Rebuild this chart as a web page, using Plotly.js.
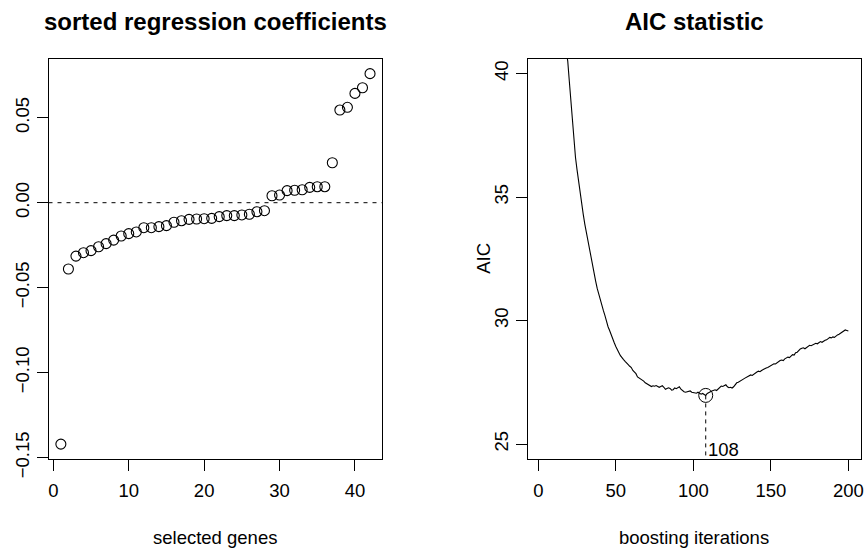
<!DOCTYPE html>
<html>
<head>
<meta charset="utf-8">
<script src="https://cdn.plot.ly/plotly-3.0.1.min.js"></script>
<style>html,body{margin:0;padding:0;background:#fff;}#chart{width:868px;height:549px;}</style>
</head>
<body>
<div id="chart"></div>
<script>
// Sorted regression coefficients (selected genes 1..42)
var geneIndex = [];
for (var i = 1; i <= 42; i++) geneIndex.push(i);
var coefficients = [
  -0.142, -0.039, -0.0314, -0.0294, -0.0282, -0.0259, -0.0241, -0.0220, -0.0196, -0.0182,
  -0.0172, -0.0147, -0.0147, -0.0141, -0.0135, -0.0115, -0.0106, -0.0098, -0.0096, -0.0094,
  -0.0092, -0.0082, -0.0076, -0.0076, -0.0072, -0.0068, -0.0053, -0.0047, 0.0041, 0.0045,
  0.0071, 0.0073, 0.0076, 0.0090, 0.0094, 0.0094, 0.0235, 0.0545, 0.0561, 0.0643,
  0.0676, 0.0759
];

// AIC statistic per boosting iteration (1..200)
var iterations = [];
for (var k = 1; k <= 200; k++) iterations.push(k);
var aic = [
  75.0, 68.0, 63.0, 59.0, 56.0, 53.5, 51.5, 49.6, 48.0, 46.7,
  45.5, 44.5, 43.6, 42.8, 42.1, 41.5, 41.3, 40.9, 40.5, 39.7,
  38.9, 38.1, 37.2, 36.6, 36.1, 35.6, 35.1, 34.7, 34.3, 33.9,
  33.55, 33.2, 32.85, 32.5, 32.2, 31.85, 31.6, 31.3, 31.05, 30.85,
  30.6, 30.4, 30.2, 29.95, 29.75, 29.6, 29.4, 29.2, 29.1, 28.95,
  28.85, 28.7, 28.58, 28.52, 28.42, 28.35, 28.3, 28.22, 28.15, 28.1,
  27.98, 27.92, 27.85, 27.72, 27.68, 27.62, 27.6, 27.55, 27.48, 27.44,
  27.4, 27.35, 27.33, 27.36, 27.34, 27.37, 27.32, 27.3, 27.33, 27.36,
  27.3, 27.22, 27.25, 27.28, 27.25, 27.18, 27.2, 27.27, 27.24, 27.3,
  27.32, 27.22, 27.15, 27.12, 27.1, 27.12, 27.11, 27.15, 27.1, 27.08,
  27.05, 27.06, 27.1, 27.04, 27.02, 27.05, 27.0, 26.97, 27.05, 27.1,
  27.12, 27.15, 27.18, 27.2, 27.17, 27.22, 27.3, 27.35, 27.33, 27.38,
  27.4, 27.32, 27.28, 27.3, 27.27, 27.32, 27.42, 27.48, 27.5, 27.55,
  27.6, 27.62, 27.66, 27.7, 27.72, 27.76, 27.8, 27.78, 27.84, 27.9,
  27.92, 27.95, 27.93, 27.98, 28.02, 28.04, 28.08, 28.1, 28.14, 28.16,
  28.2, 28.25, 28.24, 28.3, 28.35, 28.38, 28.4, 28.38, 28.45, 28.5,
  28.52, 28.5, 28.58, 28.62, 28.6, 28.7, 28.72, 28.8, 28.85, 28.88,
  28.9, 28.86, 28.92, 28.98, 29.0, 28.98, 29.02, 29.05, 29.08, 29.06,
  29.1, 29.15, 29.12, 29.18, 29.2, 29.22, 29.28, 29.32, 29.3, 29.34,
  29.32, 29.38, 29.42, 29.45, 29.5, 29.55, 29.58, 29.62, 29.6, 29.58
];

var leftYTicks = [0.05, 0.00, -0.05, -0.10, -0.15];
var leftYTickText = ["0.05", "0.00", "\u22120.05", "\u22120.10", "\u22120.15"];
var leftXTicks = [0, 10, 20, 30, 40];
var rightXTicks = [0, 50, 100, 150, 200];
var rightYTicks = [25, 30, 35, 40];

// optimal stopping iteration
var mstop = 0;
for (var j = 1; j < aic.length; j++) if (aic[j] < aic[mstop]) mstop = j;
var mstopIter = iterations[mstop];
var mstopAIC = aic[mstop];

var FONT = "Liberation Sans, Arial, Helvetica, sans-serif";
var lblSize = 18.5;
var titleSize = 24;

var traces = [
  {x: geneIndex, y: coefficients, type: 'scatter', mode: 'markers', xaxis: 'x', yaxis: 'y',
   marker: {symbol: 'circle-open', size: 10, color: '#000', line: {width: 1.1, color: '#000'}},
   hoverinfo: 'skip'},
  {x: iterations, y: aic, type: 'scatter', mode: 'lines', xaxis: 'x2', yaxis: 'y2',
   line: {color: '#000', width: 1.1}, hoverinfo: 'skip'},
  {x: [mstopIter, mstopIter], y: [mstopAIC, 20], type: 'scatter', mode: 'lines', xaxis: 'x2', yaxis: 'y2',
   line: {color: '#000', width: 1, dash: '4px,4px'}, hoverinfo: 'skip'},
  {x: [mstopIter], y: [mstopAIC], type: 'scatter', mode: 'markers', xaxis: 'x2', yaxis: 'y2',
   marker: {symbol: 'circle-open', size: 14, color: '#000', line: {width: 1, color: '#000'}},
   hoverinfo: 'skip'}
];

var axBase = {
  showgrid: false, zeroline: false, showline: true, mirror: true,
  linecolor: '#000', linewidth: 1, ticks: 'outside', ticklen: 11, tickwidth: 1, tickcolor: '#000',
  tickfont: {family: FONT, size: lblSize, color: '#000'}, fixedrange: true
};
function ax(extra) { var o = {}; for (var k in axBase) o[k] = axBase[k]; for (var k2 in extra) o[k2] = extra[k2]; return o; }

var yDom = [1 - 458.9/549, 1 - 58.7/549];
var leftDom = [48.5/868, 382.4/868];
var rightDom = [527.5/868, 860.7/868];

function txt(text, x, y, size, angle) {
  return {text: text, xref: 'paper', yref: 'paper', x: x, y: y, xanchor: 'center', yanchor: 'middle',
    showarrow: false, textangle: angle || 0, font: {family: FONT, size: size, color: '#000'}};
}

var layout = {
  width: 868, height: 549,
  margin: {l: 0, r: 0, t: 0, b: 0},
  paper_bgcolor: '#fff', plot_bgcolor: '#fff',
  showlegend: false,
  font: {family: FONT, color: '#000'},
  xaxis: ax({domain: leftDom, range: [-0.64, 43.64], tickmode: 'array', tickvals: leftXTicks, anchor: 'y',
    ticklabelstandoff: 4}),
  yaxis: ax({domain: yDom, range: [-0.1507, 0.0847], tickmode: 'array', tickvals: leftYTicks, ticktext: leftYTickText,
    tickangle: -90, anchor: 'x'}),
  xaxis2: ax({domain: rightDom, range: [-6.96, 207.96], tickmode: 'array', tickvals: rightXTicks, anchor: 'y2',
    ticklabelstandoff: 4}),
  yaxis2: ax({domain: yDom, range: [24.4, 40.6], tickmode: 'array', tickvals: rightYTicks,
    tickangle: -90, anchor: 'x2'}),
  shapes: [
    {type: 'line', xref: 'x domain', yref: 'y', x0: 0, x1: 1, y0: 0, y1: 0,
     line: {color: '#000', width: 1, dash: '4px,5px'}}
  ],
  annotations: [
    txt('<b>sorted regression coefficients</b>', (leftDom[0] + leftDom[1]) / 2, 1 - 21/549, titleSize),
    txt('<b>AIC statistic</b>', (rightDom[0] + rightDom[1]) / 2, 1 - 21/549, titleSize),
    txt('selected genes', (leftDom[0] + leftDom[1]) / 2, 1 - 537/549, lblSize),
    txt('boosting iterations', (rightDom[0] + rightDom[1]) / 2, 1 - 537/549, lblSize),
    txt('AIC', 484/868, (yDom[0] + yDom[1]) / 2, lblSize, -90),
    {text: String(mstopIter), xref: 'x2', yref: 'y2', x: mstopIter, y: 24.4, xanchor: 'left', yanchor: 'bottom',
     xshift: 0, yshift: -3, showarrow: false, font: {family: FONT, size: lblSize, color: '#000'}}
  ]
};

Plotly.newPlot('chart', traces, layout, {staticPlot: true, displayModeBar: false});
</script>
</body>
</html>
